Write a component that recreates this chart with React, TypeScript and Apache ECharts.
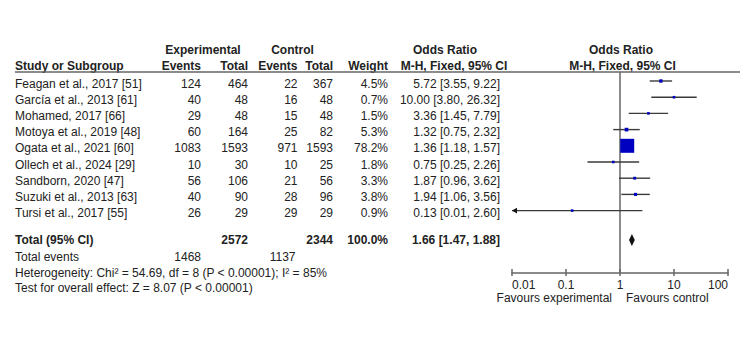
import React, { useEffect, useRef } from "react";
import * as echarts from "echarts";

// ---------- data ----------
const studies = [
  "Feagan et al., 2017 [51]",
  "García et al., 2013 [61]",
  "Mohamed, 2017 [66]",
  "Motoya et al., 2019 [48]",
  "Ogata et al., 2021 [60]",
  "Ollech et al., 2024 [29]",
  "Sandborn, 2020 [47]",
  "Suzuki et al., 2013 [63]",
  "Tursi et al., 2017 [55]",
];
const expEvents = [124, 40, 29, 60, 1083, 10, 56, 40, 26];
const expTotal = [464, 48, 48, 164, 1593, 30, 106, 90, 29];
const ctrlEvents = [22, 16, 15, 25, 971, 10, 21, 28, 29];
const ctrlTotal = [367, 48, 48, 82, 1593, 25, 56, 96, 29];
const weights = [4.5, 0.7, 1.5, 5.3, 78.2, 1.8, 3.3, 3.8, 0.9];
const oddsRatio = [5.72, 10.0, 3.36, 1.32, 1.36, 0.75, 1.87, 1.94, 0.13];
const ciLower = [3.55, 3.8, 1.45, 0.75, 1.18, 0.25, 0.96, 1.06, 0.01];
const ciUpper = [9.22, 26.32, 7.79, 2.32, 1.57, 2.26, 3.62, 3.56, 2.6];
const pooled = { or: 1.66, lower: 1.47, upper: 1.88 };
const tickValues = [0.01, 0.1, 1, 10, 100];
const tickLabels = ["0.01", "0.1", "1", "10", "100"];
const heterogeneityText = "Heterogeneity: Chi² = 54.69, df = 8 (P < 0.00001); I² = 85%";
const overallText = "Test for overall effect: Z = 8.07 (P < 0.00001)";
const favoursLeft = "Favours experimental";
const favoursRight = "Favours control";

// ---------- layout ----------
const ROW0 = 83.5;
const ROW_H = 16.2;
const Y_MIN = -3;
const Y_MAX0 = 14;
const GRID_TOP = ROW0 + Y_MIN * ROW_H;
const AXIS_Y = 272.5;
const Y_MAX1 = Y_MIN + (AXIS_Y - GRID_TOP) / ROW_H;
const X_MIN = 0.01;
const X_MAX = 100;
const MARK_OFF = -2.5 / ROW_H;

const R_H1 = -2.07;
const R_H2 = -1.08;
const R_LINE = -0.71;
const R_TOTAL = 9.66;
const R_EVENTS = 10.69;
const R_HET = 11.68;
const R_TEST = 12.64;
const R_FAV = 13.22;

const COL = { name: 15, expEv: 201, expTot: 248, ctlEv: 297.5, ctlTot: 333, weight: 388, or: 500 };

const FONT = '"Liberation Sans", Arial, Helvetica, sans-serif';
const TEXT_COLOR = "#222222";
const LINE_COLOR = "#666666";
const CI_COLOR = "#3a3a3a";
const BOX_COLOR = "#0000c0";

type Cell = { x: number; row: number; text: string; align: "left" | "right" | "center"; bold?: boolean };

const fmt2 = (v: number) => v.toFixed(2);
const sum = (a: number[]) => a.reduce((s, v) => s + v, 0);

const cells: Cell[] = [];
// headers
cells.push({ x: 203, row: R_H1, text: "Experimental", align: "center", bold: true });
cells.push({ x: 292.5, row: R_H1, text: "Control", align: "center", bold: true });
cells.push({ x: 445, row: R_H1, text: "Odds Ratio", align: "center", bold: true });
cells.push({ x: 621, row: R_H1, text: "Odds Ratio", align: "center", bold: true });
cells.push({ x: COL.name, row: R_H2, text: "Study or Subgroup", align: "left", bold: true });
cells.push({ x: COL.expEv, row: R_H2, text: "Events", align: "right", bold: true });
cells.push({ x: COL.expTot, row: R_H2, text: "Total", align: "right", bold: true });
cells.push({ x: COL.ctlEv, row: R_H2, text: "Events", align: "right", bold: true });
cells.push({ x: COL.ctlTot, row: R_H2, text: "Total", align: "right", bold: true });
cells.push({ x: COL.weight, row: R_H2, text: "Weight", align: "right", bold: true });
cells.push({ x: 454, row: R_H2, text: "M-H, Fixed, 95% CI", align: "center", bold: true });
cells.push({ x: 622.5, row: R_H2, text: "M-H, Fixed, 95% CI", align: "center", bold: true });
// studies
studies.forEach((s, i) => {
  cells.push({ x: COL.name, row: i, text: s, align: "left" });
  cells.push({ x: COL.expEv, row: i, text: String(expEvents[i]), align: "right" });
  cells.push({ x: COL.expTot, row: i, text: String(expTotal[i]), align: "right" });
  cells.push({ x: COL.ctlEv, row: i, text: String(ctrlEvents[i]), align: "right" });
  cells.push({ x: COL.ctlTot, row: i, text: String(ctrlTotal[i]), align: "right" });
  cells.push({ x: COL.weight, row: i, text: weights[i].toFixed(1) + "%", align: "right" });
  cells.push({
    x: COL.or,
    row: i,
    text: `${fmt2(oddsRatio[i])} [${fmt2(ciLower[i])}, ${fmt2(ciUpper[i])}]`,
    align: "right",
  });
});
// totals
cells.push({ x: COL.name, row: R_TOTAL, text: "Total (95% CI)", align: "left", bold: true });
cells.push({ x: COL.expTot, row: R_TOTAL, text: String(sum(expTotal)), align: "right", bold: true });
cells.push({ x: COL.ctlTot, row: R_TOTAL, text: String(sum(ctrlTotal)), align: "right", bold: true });
cells.push({ x: COL.weight, row: R_TOTAL, text: sum(weights).toFixed(1) + "%", align: "right", bold: true });
cells.push({
  x: COL.or,
  row: R_TOTAL,
  text: `${fmt2(pooled.or)} [${fmt2(pooled.lower)}, ${fmt2(pooled.upper)}]`,
  align: "right",
  bold: true,
});
cells.push({ x: COL.name, row: R_EVENTS, text: "Total events", align: "left" });
cells.push({ x: COL.expEv, row: R_EVENTS, text: String(sum(expEvents)), align: "right" });
cells.push({ x: COL.ctlEv - 2, row: R_EVENTS, text: String(sum(ctrlEvents)), align: "right" });
cells.push({ x: COL.name, row: R_HET, text: heterogeneityText, align: "left" });
cells.push({ x: COL.name, row: R_TEST, text: overallText, align: "left" });

const font = (bold?: boolean) => `${bold ? "bold " : ""}12px ${FONT}`;

export default function App() {
  const ref = useRef<HTMLDivElement>(null);
  useEffect(() => {
    document.body.style.margin = "0";
    const chart = echarts.init(ref.current!, null, { renderer: "svg" });
    const option: any = {
      animation: false,
      backgroundColor: "#ffffff",
      grid: [
        { left: 0, top: GRID_TOP, width: 750, height: (Y_MAX0 - Y_MIN) * ROW_H },
        { left: 512, top: GRID_TOP, width: 216, height: AXIS_Y - GRID_TOP },
      ],
      xAxis: [
        { gridIndex: 0, type: "value", min: 0, max: 750, show: false },
        {
          gridIndex: 1,
          type: "log",
          logBase: 10,
          min: X_MIN,
          max: X_MAX,
          position: "bottom",
          axisLine: { show: true, onZero: false, lineStyle: { color: LINE_COLOR, width: 1.5 } },
          axisTick: { show: false },
          splitLine: { show: false },
          axisLabel: {
            show: true,
            margin: 6,
            color: TEXT_COLOR,
            fontSize: 12,
            fontFamily: FONT,
            alignMinLabel: "left",
            alignMaxLabel: "right",
            formatter: (v: number) => {
              const idx = tickValues.findIndex((t) => Math.abs(Math.log10(t) - Math.log10(v)) < 1e-6);
              return idx >= 0 ? tickLabels[idx] : "";
            },
          },
        },
      ],
      yAxis: [
        { gridIndex: 0, type: "value", min: Y_MIN, max: Y_MAX0, inverse: true, show: false },
        { gridIndex: 1, type: "value", min: Y_MIN, max: Y_MAX1, inverse: true, show: false },
      ],
      series: [
        {
          type: "custom",
          name: "table",
          xAxisIndex: 0,
          yAxisIndex: 0,
          clip: false,
          silent: true,
          data: cells.map((c, i) => [c.x, c.row, i]),
          renderItem: (_p: any, api: any) => {
            const c = cells[api.value(2)];
            const pt = api.coord([api.value(0), api.value(1)]);
            return {
              type: "text",
              x: pt[0],
              y: pt[1],
              style: {
                text: c.text,
                textAlign: c.align,
                textVerticalAlign: "middle",
                fill: TEXT_COLOR,
                font: font(c.bold),
              },
            };
          },
        },
        {
          type: "custom",
          name: "rule",
          xAxisIndex: 0,
          yAxisIndex: 0,
          clip: false,
          silent: true,
          data: [[15, 740, R_LINE]],
          renderItem: (_p: any, api: any) => {
            const a = api.coord([api.value(0), api.value(2)]);
            const b = api.coord([api.value(1), api.value(2)]);
            return {
              type: "line",
              shape: { x1: a[0], y1: a[1], x2: b[0], y2: b[1] },
              style: { stroke: LINE_COLOR, lineWidth: 1.5 },
            };
          },
        },
        {
          type: "custom",
          name: "reference",
          xAxisIndex: 1,
          yAxisIndex: 1,
          clip: false,
          silent: true,
          data: [[1]],
          renderItem: (_p: any, api: any) => {
            const top = api.coord([1, R_LINE]);
            const bottom = api.coord([1, Y_MAX1]);
            const children: any[] = [
              {
                type: "line",
                shape: { x1: top[0], y1: top[1], x2: bottom[0], y2: bottom[1] },
                style: { stroke: LINE_COLOR, lineWidth: 1.5 },
              },
            ];
            tickValues.forEach((t) => {
              const p = api.coord([t, Y_MAX1]);
              children.push({
                type: "line",
                shape: { x1: p[0], y1: p[1] - 3.5, x2: p[0], y2: p[1] + 3.5 },
                style: { stroke: LINE_COLOR, lineWidth: 1.5 },
              });
            });
            const f = api.coord([1, R_FAV]);
            children.push({
              type: "text",
              x: f[0] - 8,
              y: f[1],
              style: { text: favoursLeft, textAlign: "right", textVerticalAlign: "middle", fill: TEXT_COLOR, font: font(false) },
            });
            children.push({
              type: "text",
              x: f[0] + 6,
              y: f[1],
              style: { text: favoursRight, textAlign: "left", textVerticalAlign: "middle", fill: TEXT_COLOR, font: font(false) },
            });
            return { type: "group", children };
          },
        },
        {
          type: "custom",
          name: "studies",
          xAxisIndex: 1,
          yAxisIndex: 1,
          clip: false,
          silent: true,
          data: studies.map((_, i) => [oddsRatio[i], ciLower[i], ciUpper[i], i, weights[i]]),
          renderItem: (_p: any, api: any) => {
            const row = api.value(3) + MARK_OFF;
            const lowRaw = api.value(1);
            const clipped = lowRaw <= X_MIN;
            const lo = Math.max(lowRaw, X_MIN);
            const hi = Math.min(api.value(2), X_MAX);
            const pl = api.coord([lo, row]);
            const ph = api.coord([hi, row]);
            const pm = api.coord([api.value(0), row]);
            const size = Math.max(2.6, 14 * Math.sqrt(api.value(4) / 78.2));
            const children: any[] = [
              {
                type: "line",
                shape: { x1: pl[0], y1: pl[1], x2: ph[0], y2: ph[1] },
                style: { stroke: CI_COLOR, lineWidth: 1.4 },
              },
              {
                type: "rect",
                shape: { x: pm[0] - size / 2, y: pm[1] - size / 2, width: size, height: size },
                style: { fill: BOX_COLOR },
              },
            ];
            if (clipped) {
              children.push({
                type: "polygon",
                shape: {
                  points: [
                    [pl[0], pl[1]],
                    [pl[0] + 5, pl[1] - 2.8],
                    [pl[0] + 5, pl[1] + 2.8],
                  ],
                },
                style: { fill: "#111" },
              });
            }
            return { type: "group", children };
          },
        },
        {
          type: "custom",
          name: "pooled",
          xAxisIndex: 1,
          yAxisIndex: 1,
          clip: false,
          silent: true,
          data: [[pooled.or, pooled.lower, pooled.upper, R_TOTAL]],
          renderItem: (_p: any, api: any) => {
            const row = api.value(3);
            const pl = api.coord([api.value(1), row]);
            const ph = api.coord([api.value(2), row]);
            const pm = api.coord([api.value(0), row]);
            return {
              type: "polygon",
              shape: {
                points: [
                  [pl[0], pl[1]],
                  [pm[0], pm[1] - 6],
                  [ph[0], ph[1]],
                  [pm[0], pm[1] + 6],
                ],
              },
              style: { fill: "#111" },
            };
          },
        },
      ],
    };
    chart.setOption(option);
    return () => chart.dispose();
  }, []);
  return <div ref={ref} style={{ width: 750, height: 345 }} />;
}
